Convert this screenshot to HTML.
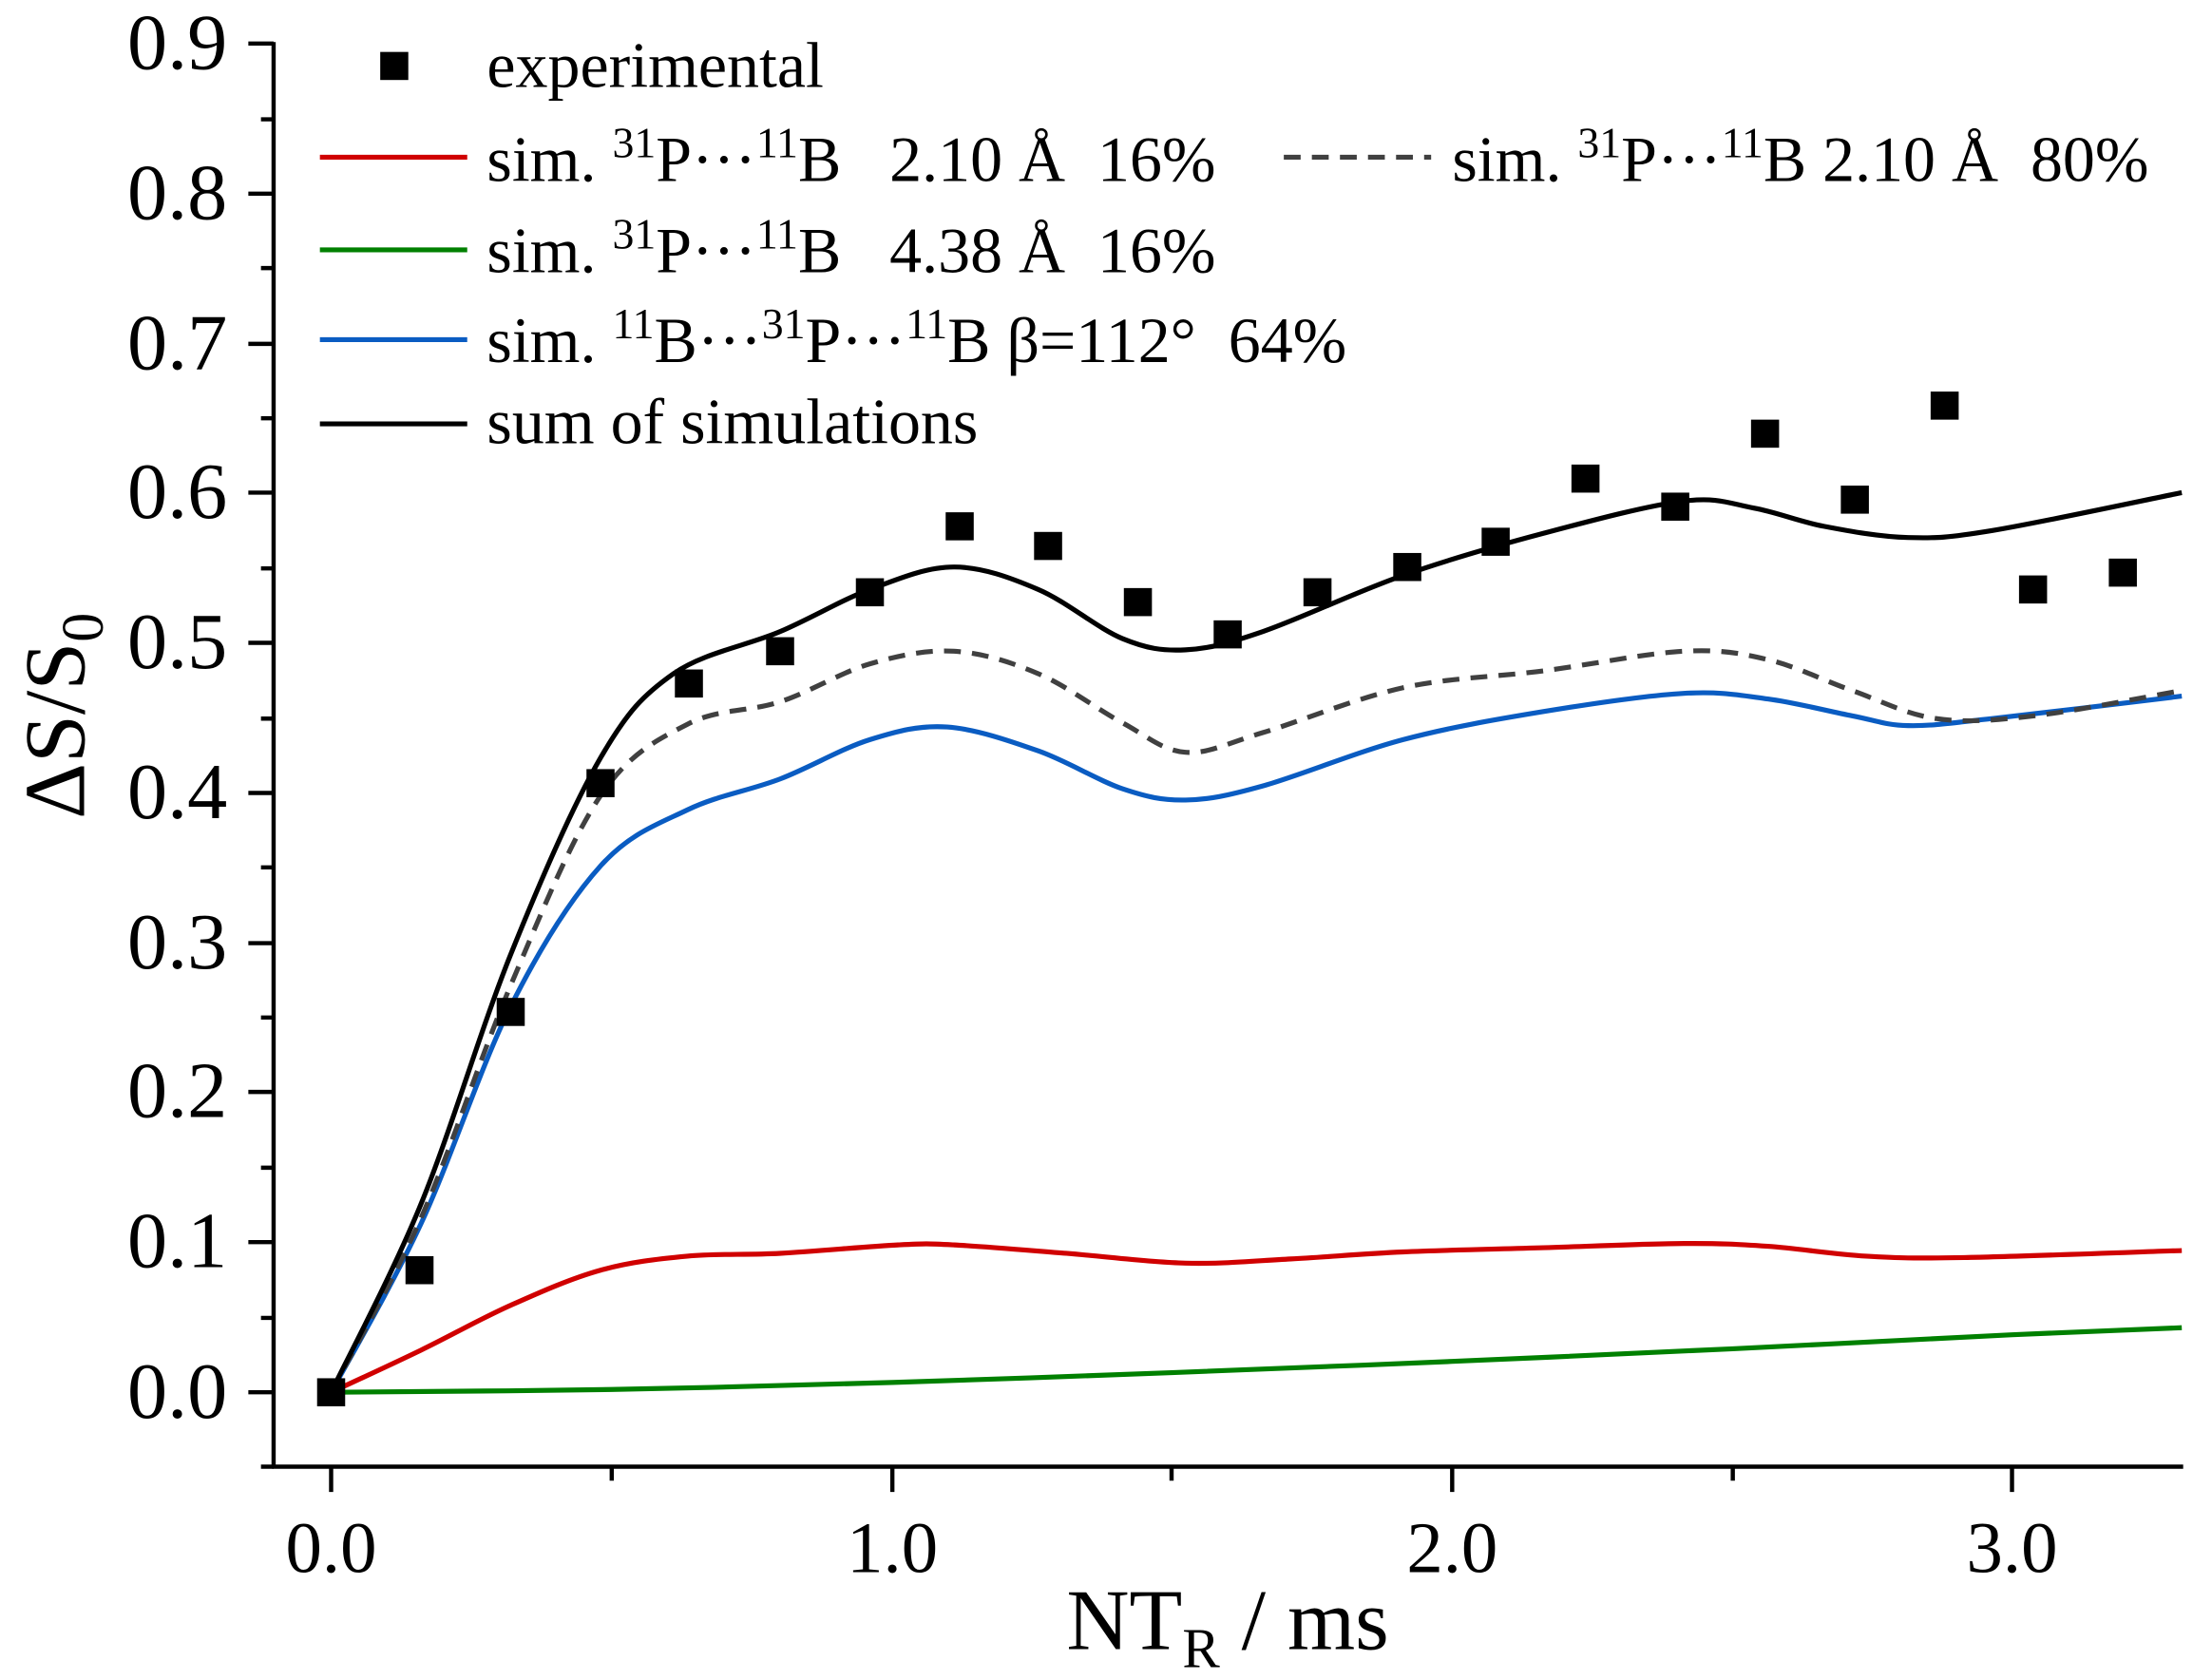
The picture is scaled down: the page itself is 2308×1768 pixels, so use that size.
<!DOCTYPE html>
<html><head><meta charset="utf-8"><style>html,body{margin:0;padding:0;background:#fff}svg{display:block}text{white-space:pre}</style></head>
<body>
<svg id="s" width="2308" height="1768" viewBox="0 0 1563 1197" preserveAspectRatio="none" xmlns="http://www.w3.org/2000/svg" font-family="Liberation Serif, serif" xml:space="preserve">
<g stroke="#000" stroke-width="3" fill="none">
<line x1="195" y1="30" x2="195" y2="1046"/>
<line x1="194" y1="1045" x2="1556" y2="1045"/>
<path d="M177,992H195M177,885H195M177,778H195M177,672H195M177,565H195M177,458H195M177,351H195M177,245H195M177,138H195M177,31H195"/>
<path d="M186,1045H195M186,939H195M186,832H195M186,725H195M186,618H195M186,512H195M186,405H195M186,298H195M186,191H195M186,85H195"/>
<path d="M236,1045V1063M636,1045V1063M1035,1045V1063M1434,1045V1063"/>
<path d="M436,1045V1055M835,1045V1055M1235,1045V1055"/>
</g>
<g font-size="57" text-anchor="end" fill="#000">
<text x="162" y="1010">0.0</text><text x="162" y="903">0.1</text><text x="162" y="796">0.2</text><text x="162" y="690">0.3</text><text x="162" y="583">0.4</text><text x="162" y="476">0.5</text><text x="162" y="369">0.6</text><text x="162" y="263">0.7</text><text x="162" y="156">0.8</text><text x="162" y="49">0.9</text>
</g>
<g font-size="52" text-anchor="middle" fill="#000">
<text x="236" y="1120">0.0</text><text x="636" y="1120">1.0</text><text x="1035" y="1120">2.0</text><text x="1434" y="1120">3.0</text>
</g>
<text x="875" y="1175" font-size="62" text-anchor="middle">NT<tspan font-size="40" dy="13">R</tspan><tspan dy="-13"> / ms</tspan></text>
<text transform="translate(60,510) rotate(-90)" font-size="62" text-anchor="middle">ΔS/S<tspan font-size="42" dy="13">0</tspan></text>

<g fill="none" stroke-width="3.5" stroke-linejoin="round">
<path class="c" stroke="#008000" data-p="236,992 436,990 636,985 835,978 1035,970 1235,961 1434,951 1555,946"/>
<path class="c" stroke="#d00000" data-p="236,992 300,962 364,930 428,905 490,895 556,893 640,887 680,887 760,893 845,900 920,897 1000,892 1100,889 1200,886 1260,888 1330,895 1400,896 1555,891"/>
<path class="c" stroke="#0a5cc2" data-p="236,992 300,872 364,717 428,617 490,577 556,555 620,527 675,518 740,535 800,562 845,570 900,560 1000,527 1100,507 1200,494 1260,498 1320,510 1360,517 1420,512 1555,496"/>
<path class="c" stroke="#404040" stroke-dasharray="12,8" data-p="236,992 300,868 364,702 428,567 490,516 556,500 620,473 680,464 740,480 800,515 845,536 900,522 1000,490 1100,478 1200,464 1260,470 1320,492 1380,512 1450,510 1555,492"/>
<path class="c" stroke="#000" data-p="236,992 300,858 364,680 428,540 480,480 556,450 620,420 680,404 740,420 800,455 845,463 900,450 1000,410 1100,380 1200,357 1250,362 1300,375 1360,383 1420,378 1555,351"/>
</g>
<g fill="#000">
<rect x="226" y="982" width="20" height="20"/><rect x="289" y="895" width="20" height="20"/><rect x="354" y="711" width="20" height="20"/><rect x="418" y="548" width="20" height="20"/><rect x="481" y="477" width="20" height="20"/><rect x="546" y="454" width="20" height="20"/><rect x="610" y="412" width="20" height="20"/><rect x="674" y="365" width="20" height="20"/><rect x="737" y="379" width="20" height="20"/><rect x="801" y="419" width="20" height="20"/><rect x="865" y="442" width="20" height="20"/><rect x="929" y="412" width="20" height="20"/><rect x="993" y="394" width="20" height="20"/><rect x="1056" y="376" width="20" height="20"/><rect x="1120" y="331" width="20" height="20"/><rect x="1184" y="351" width="20" height="20"/><rect x="1248" y="299" width="20" height="20"/><rect x="1312" y="346" width="20" height="20"/><rect x="1376" y="279" width="20" height="20"/><rect x="1439" y="410" width="20" height="20"/><rect x="1503" y="398" width="20" height="20"/>
</g>
<rect x="271" y="37" width="20" height="20" fill="#000"/>
<g stroke-width="3.5">
<line x1="228" y1="112" x2="333" y2="112" stroke="#d00000"/>
<line x1="228" y1="178" x2="333" y2="178" stroke="#008000"/>
<line x1="228" y1="242" x2="333" y2="242" stroke="#0a5cc2"/>
<line x1="228" y1="302" x2="333" y2="302" stroke="#000"/>
<line x1="915" y1="112" x2="1020" y2="112" stroke="#404040" stroke-dasharray="12,8"/>
</g>
<g font-size="46" fill="#000">
<text x="347" y="62">experimental</text>
<text x="347" y="129">sim. <tspan font-size="31" dy="-17">31</tspan><tspan dy="17">P···</tspan><tspan font-size="31" dy="-17">11</tspan><tspan dy="17">B   2.10 Å  16%</tspan></text>
<text x="347" y="194">sim. <tspan font-size="31" dy="-17">31</tspan><tspan dy="17">P···</tspan><tspan font-size="31" dy="-17">11</tspan><tspan dy="17">B   4.38 Å  16%</tspan></text>
<text x="347" y="258">sim. <tspan font-size="31" dy="-17">11</tspan><tspan dy="17">B···</tspan><tspan font-size="31" dy="-17">31</tspan><tspan dy="17">P···</tspan><tspan font-size="31" dy="-17">11</tspan><tspan dy="17">B β=112°  64%</tspan></text>
<text x="347" y="316">sum of simulations</text>
<text x="1035" y="129">sim. <tspan font-size="31" dy="-17">31</tspan><tspan dy="17">P···</tspan><tspan font-size="31" dy="-17">11</tspan><tspan dy="17">B 2.10 Å  80%</tspan></text>
</g>
</svg>
<script>
document.querySelectorAll('path.c').forEach(function(el){
var p=el.getAttribute('data-p').trim().split(/\s+/).map(function(s){return s.split(',').map(Number);});
var d='M'+p[0][0]+','+p[0][1];
for(var i=0;i<p.length-1;i++){
var p0=p[i-1]||p[i],p1=p[i],p2=p[i+1],p3=p[i+2]||p2;
var c1=[p1[0]+(p2[0]-p0[0])/6,p1[1]+(p2[1]-p0[1])/6];
var c2=[p2[0]-(p3[0]-p1[0])/6,p2[1]-(p3[1]-p1[1])/6];
d+='C'+c1[0]+','+c1[1]+' '+c2[0]+','+c2[1]+' '+p2[0]+','+p2[1];
}
el.setAttribute('d',d);
});
</script>
</body></html>
